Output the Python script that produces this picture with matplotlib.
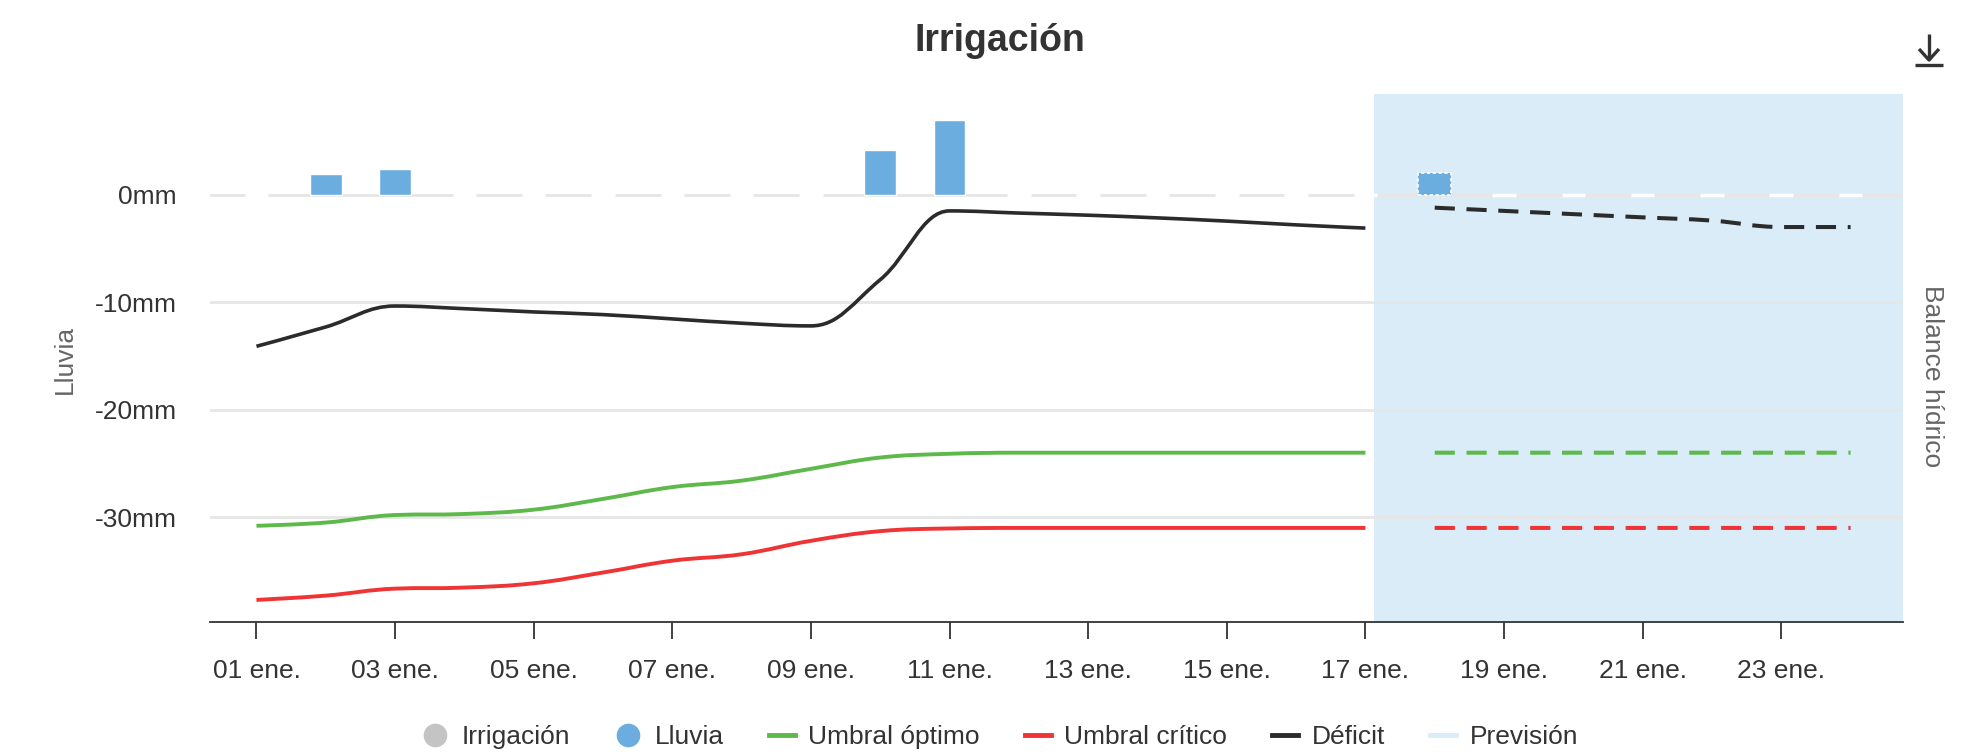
import numpy as np
import matplotlib
matplotlib.use("Agg")
import matplotlib.pyplot as plt
from matplotlib.path import Path
from matplotlib.patches import PathPatch
from matplotlib.lines import Line2D

plt.rcParams['font.family'] = ['Liberation Sans', 'DejaVu Sans']

# --- data (mm) ---
days = list(range(1, 18))
forecast_days = list(range(18, 25))
deficit = [-14.1, -12.3, -10.35, -10.6, -10.9, -11.15, -11.55, -11.95, -12.2,
           -7.9, -1.5, -1.7, -1.9, -2.15, -2.45, -2.8, -3.1]
deficit_fc = [-1.2, -1.5, -1.8, -2.1, -2.4, -3.0, -3.0]
optimo = [-30.8, -30.5, -29.8, -29.7, -29.3, -28.3, -27.2, -26.6, -25.5,
          -24.45, -24.1, -24.0, -24.0, -24.0, -24.0, -24.0, -24.0]
optimo_fc = [-24.0] * 7
critico = [-37.7, -37.3, -36.65, -36.55, -36.15, -35.15, -34.05, -33.45, -32.2,
           -31.3, -31.05, -31.0, -31.0, -31.0, -31.0, -31.0, -31.0]
critico_fc = [-31.0] * 7
rain_days = [2, 3, 10, 11]
rain_mm = [1.9, 2.4, 4.2, 7.0]
rain_fc_days = [18]
rain_fc_mm = [2.0]
forecast_start = 17.12
tick_days = list(range(1, 24, 2))
tick_labels = [f"{d:02d} ene." for d in tick_days]

C_GREEN = '#5db94a'
C_RED = '#ee3434'
C_BLACK = '#2b2b2b'
C_BAR = '#6caddf'
C_BAND = '#d9ecf8'
C_GRAY = '#c4c4c4'
FS = 19


def spline_path(xs, ys, smoothing=1.5):
    """Bezier path like a Highcharts spline."""
    n = len(xs)
    right = [(xs[0], ys[0])]
    left = [None]
    for i in range(1, n):
        px, py = xs[i], ys[i]
        if i < n - 1:
            lx, ly = xs[i - 1], ys[i - 1]
            nx, ny = xs[i + 1], ys[i + 1]
            den = smoothing + 1
            lcx = (smoothing * px + lx) / den
            lcy = (smoothing * py + ly) / den
            rcx = (smoothing * px + nx) / den
            rcy = (smoothing * py + ny) / den
            corr = (rcy - lcy) * (rcx - px) / (rcx - lcx) + py - rcy
            lcy += corr
            rcy += corr
            if lcy > ly and lcy > py:
                lcy = max(ly, py); rcy = 2 * py - lcy
            elif lcy < ly and lcy < py:
                lcy = min(ly, py); rcy = 2 * py - lcy
            if rcy > ny and rcy > py:
                rcy = max(ny, py); lcy = 2 * py - rcy
            elif rcy < ny and rcy < py:
                rcy = min(ny, py); lcy = 2 * py - rcy
            left.append((lcx, lcy))
            right.append((rcx, rcy))
        else:
            left.append((px, py))
            right.append((px, py))
    verts = [(xs[0], ys[0])]
    codes = [Path.MOVETO]
    for i in range(1, n):
        verts += [right[i - 1], left[i], (xs[i], ys[i])]
        codes += [Path.CURVE4] * 3
    return Path(verts, codes)


def draw_spline(ax, xs, ys, color, lw, dashed=False):
    patch = PathPatch(spline_path(xs, ys), fill=False, edgecolor=color, lw=lw,
                      capstyle='butt', joinstyle='round', zorder=5)
    if dashed:
        patch.set_linestyle((0, (5.0, 2.9)))
    ax.add_patch(patch)


fig = plt.figure(figsize=(19.61, 7.55), dpi=100)
ax = fig.add_axes([0.1071, 0.1755, 0.8631, 0.7003])
ax.set_xlim(0.33, 24.75)
ax.set_ylim(-39.8, 9.4)

# forecast band
ax.axvspan(forecast_start, 24.75, color=C_BAND, lw=0, zorder=0)

# grid
for y in [-30, -20, -10, 0]:
    ax.axhline(y, color='#e6e6e6', lw=2, zorder=1)

# zero-height columns leave white gaps on the 0 line
empty_days = [d for d in days + forecast_days if d not in rain_days + rain_fc_days]
ax.hlines([0] * len(empty_days), [d - 0.17 for d in empty_days],
          [d + 0.17 for d in empty_days], color='white', lw=2.5, zorder=2)

# rain bars
ax.bar(rain_days, rain_mm, width=0.46, color=C_BAR, edgecolor='white', lw=1, zorder=3)
ax.bar(rain_fc_days, rain_fc_mm, width=0.48, color=C_BAR, edgecolor='white',
       lw=1.2, linestyle=(0, (2, 1.5)), zorder=3)

# lines
draw_spline(ax, days, deficit, C_BLACK, 2.6)
draw_spline(ax, forecast_days, deficit_fc, C_BLACK, 2.9, dashed=True)
draw_spline(ax, days, optimo, C_GREEN, 2.8)
draw_spline(ax, forecast_days, optimo_fc, C_GREEN, 2.9, dashed=True)
draw_spline(ax, days, critico, C_RED, 2.8)
draw_spline(ax, forecast_days, critico_fc, C_RED, 2.9, dashed=True)

# axes styling
for s in ['top', 'right', 'left']:
    ax.spines[s].set_visible(False)
ax.spines['bottom'].set_color('#333333')
ax.spines['bottom'].set_linewidth(1.3)
ax.spines['bottom'].set_zorder(6)
ax.set_xticks(tick_days)
ax.set_xticklabels(tick_labels)
ax.tick_params(axis='x', direction='out', length=12, width=1.3, color='#333333',
               labelsize=FS, labelcolor='#333333', pad=14)
ax.set_yticks([0, -10, -20, -30])
ax.set_yticklabels(['0mm', '-10mm', '-20mm', '-30mm'])
ax.tick_params(axis='y', length=0, labelsize=FS, labelcolor='#333333', pad=24)

fig.text(0.033, 0.524, 'Lluvia', rotation=90, ha='center', va='center',
         fontsize=FS, color='#666666')
fig.text(0.985, 0.502, 'Balance hídrico', rotation=270, ha='center', va='center',
         fontsize=FS, color='#666666')
fig.text(0.51, 0.946, 'Irrigación', ha='center', va='center', fontsize=27,
         fontweight='bold', color='#333333')

# download icon
icon = dict(color='#333333', lw=2.4, transform=fig.transFigure, solid_capstyle='butt')
fig.add_artist(Line2D([1929 / 1961] * 2, [1 - 34 / 755, 1 - 60 / 755], **icon))
fig.add_artist(Line2D([1919 / 1961, 1929 / 1961, 1939 / 1961],
                      [1 - 49 / 755, 1 - 60 / 755, 1 - 49 / 755], **icon))
fig.add_artist(Line2D([1915 / 1961, 1943 / 1961], [1 - 65 / 755] * 2, **icon))

# legend
handles = [
    Line2D([], [], marker='o', ls='none', markersize=16, color=C_GRAY),
    Line2D([], [], marker='o', ls='none', markersize=16, color=C_BAR),
    Line2D([], [], color=C_GREEN, lw=3.5),
    Line2D([], [], color=C_RED, lw=3.5),
    Line2D([], [], color=C_BLACK, lw=3.5),
    Line2D([], [], color=C_BAND, lw=3.5),
]
labels = ['Irrigación', 'Lluvia', 'Umbral óptimo', 'Umbral crítico', 'Déficit', 'Previsión']
leg = fig.legend(handles, labels, loc='center', bbox_to_anchor=(0.51, 0.024), ncol=6,
                 frameon=False, fontsize=FS, handlelength=1.0, handletextpad=0.5,
                 columnspacing=1.7)
for t in leg.get_texts():
    t.set_color('#333333')

fig.savefig('out.png', dpi=100)
